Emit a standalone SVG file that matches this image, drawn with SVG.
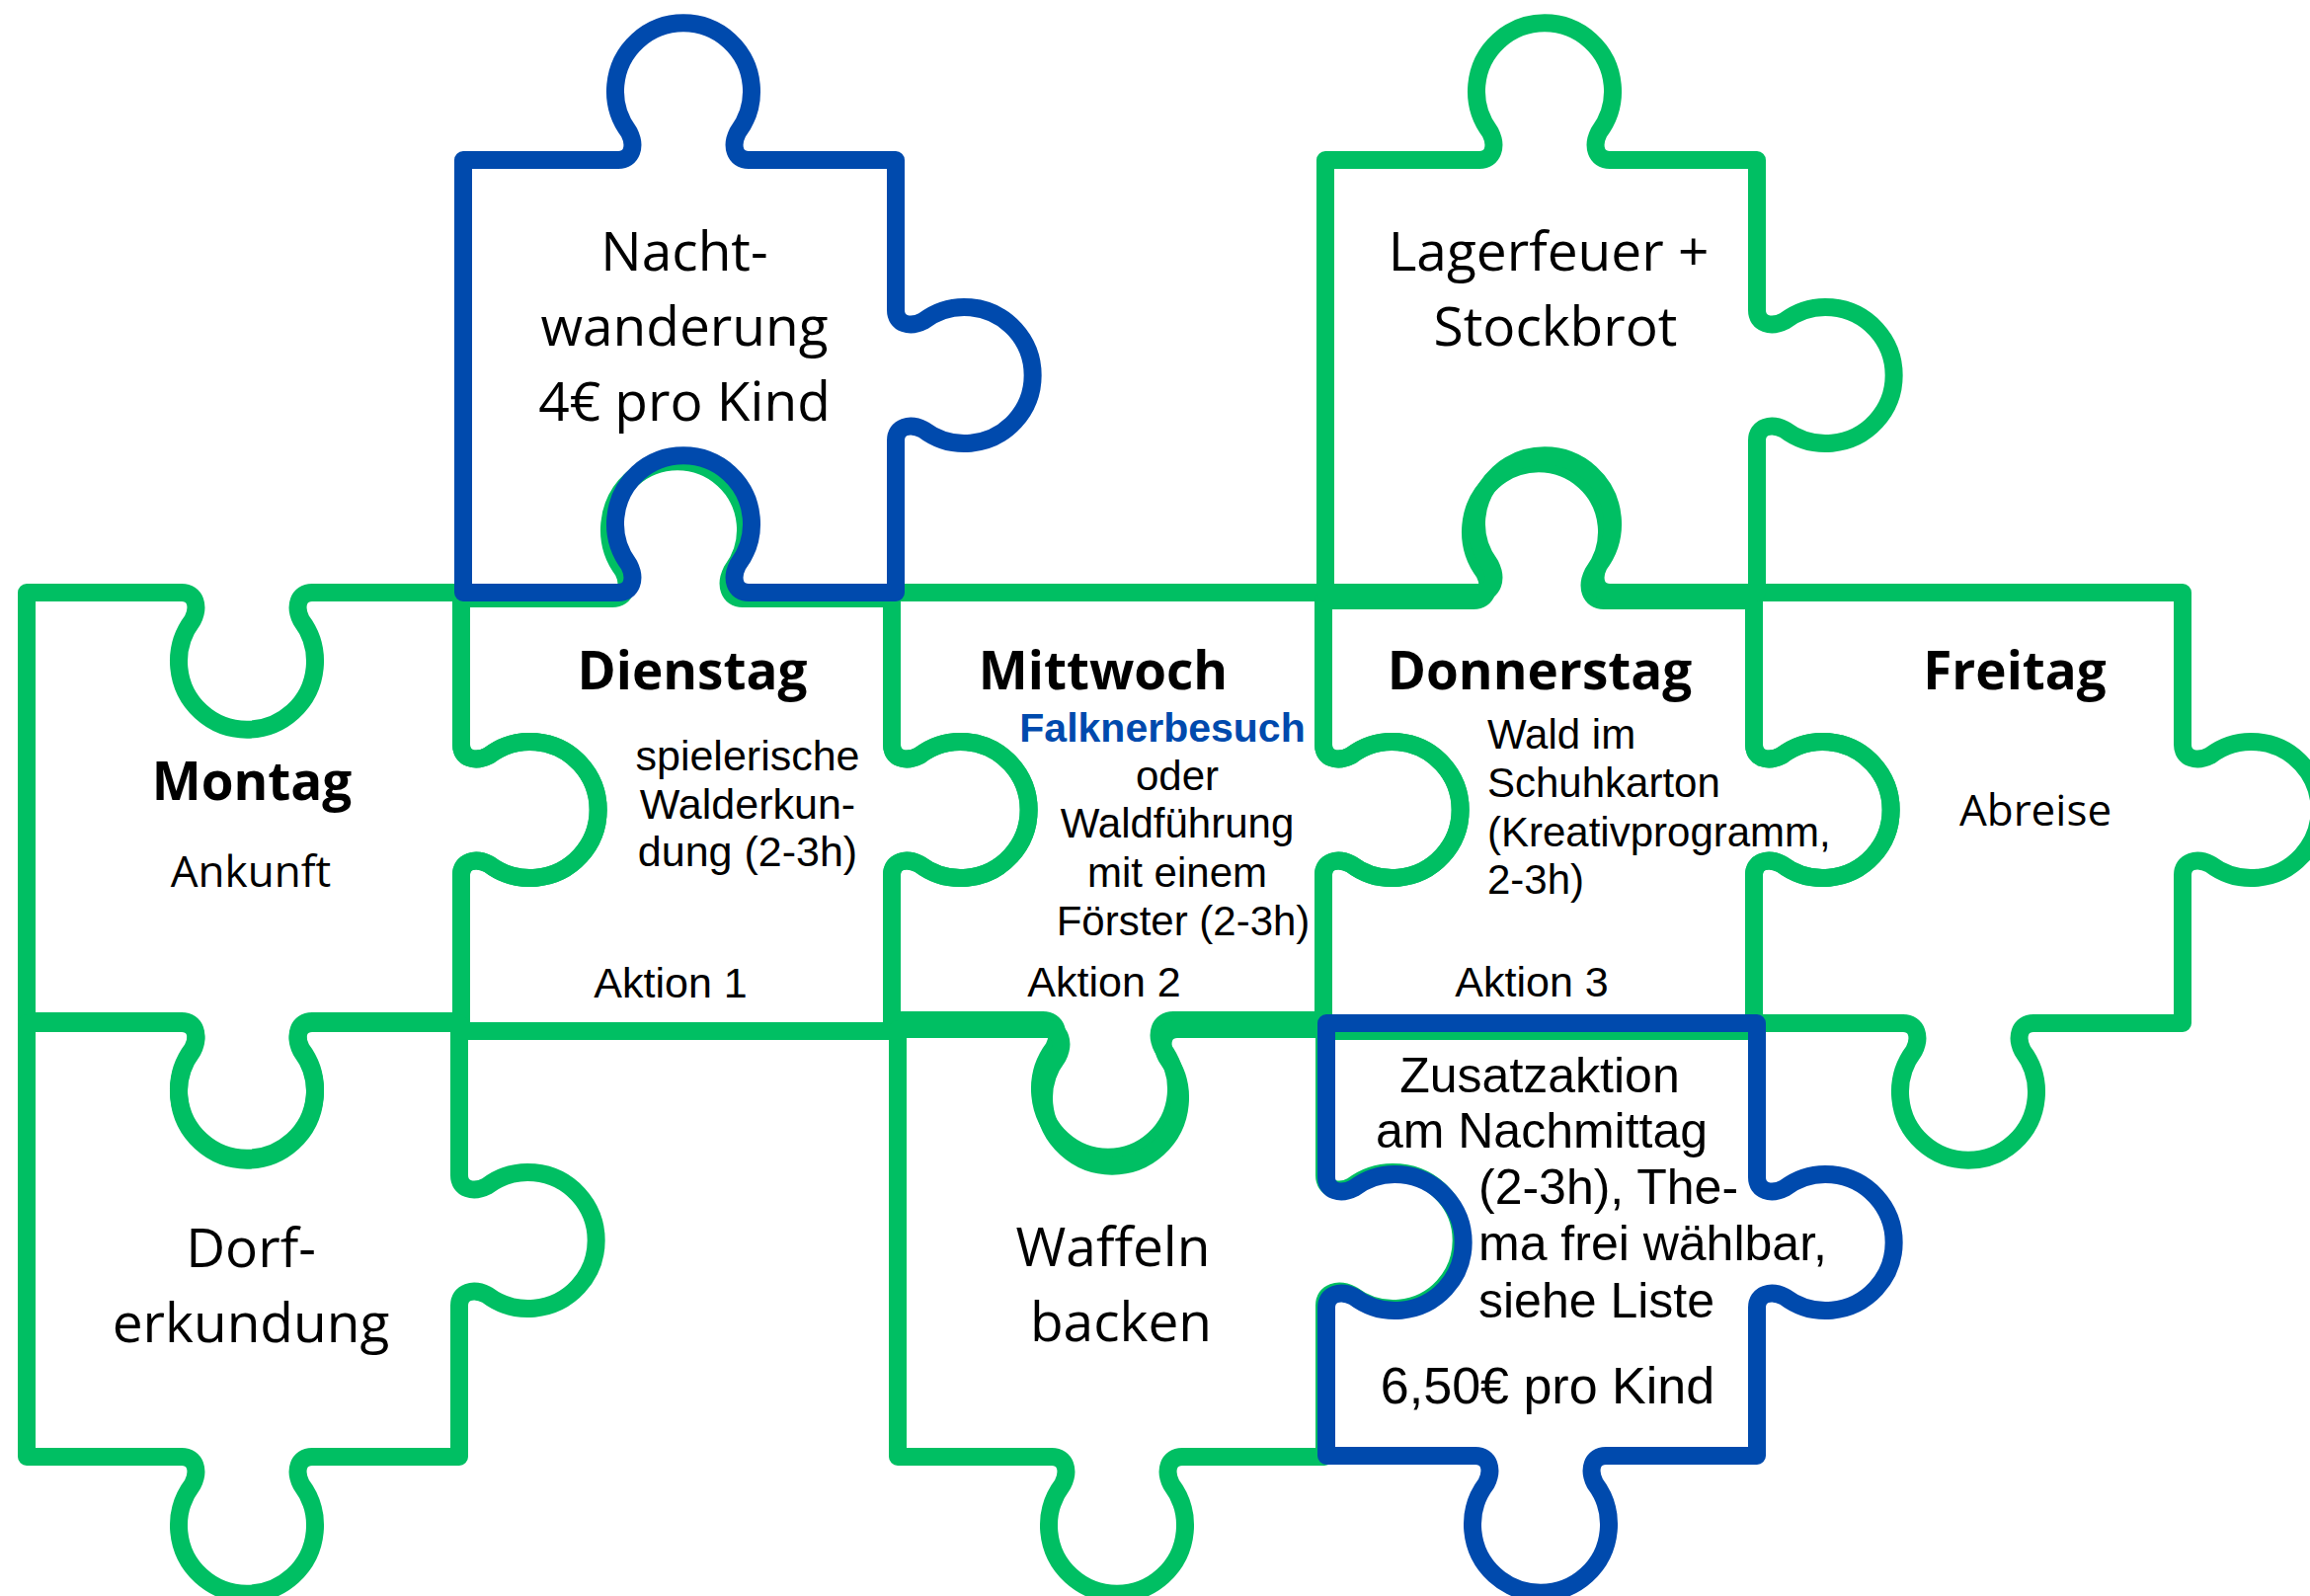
<svg xmlns="http://www.w3.org/2000/svg" width="2339" height="1616" viewBox="0 0 2339 1616">
<style>
.pc{fill:none;stroke-width:18;stroke-linejoin:round;stroke-linecap:round}
.g{stroke:#00BF63}
.b{stroke:#004AAD}
text{font-family:"Open Sans","Noto Sans","Liberation Sans",sans-serif;fill:#000}
.day{font-weight:700;font-size:53px;text-anchor:middle}
.big{font-size:55px;text-anchor:middle}
.mid{font-size:44px;text-anchor:middle}
.body,.bodyl,.z,.blue{font-family:"Liberation Sans","Arimo",Arial,sans-serif}
.body{font-size:42px;text-anchor:middle}
.bodyl{font-size:42px;text-anchor:start}
.z{font-size:50px}
.blue{fill:#004AAD;font-weight:700;font-size:41px;text-anchor:middle}
</style>
<rect width="2339" height="1616" fill="#ffffff"/>
<g id="connectors"></g>
<g id="montag">
<path class="pc g" d="M27,600 H184 c14,0 18,14 11,28 a69,69 0 1 0 110,0 c-7,-14 -3,-28 11,-28 H467 V754 c0,14 14,18 28,11 a69,69 0 1 1 0,110 c-14,-7 -28,-3 -28,11 V1034 H316 c-14,0 -18,14 -11,28 a69,69 0 1 1 -110,0 c7,-14 3,-28 -11,-28 H27 Z"/>
<text class="day" x="255" y="810">Montag</text>
<text class="mid" x="254" y="898">Ankunft</text>
</g>
<g id="dienstag">
<path class="pc g" d="M467,606 H620 c14,0 18,-14 11,-28 a69,69 0 1 1 110,0 c-7,14 -3,28 11,28 H903 V754 c0,14 14,18 28,11 a69,69 0 1 1 0,110 c-14,-7 -28,-3 -28,11 V1044 H467 V886 c0,-14 14,-18 28,-11 a69,69 0 1 0 0,-110 c-14,7 -28,3 -28,-11 Z"/>
<text class="day" x="701" y="698">Dienstag</text>
<text class="body" x="757" y="780" style="font-size:43px">spielerische</text>
<text class="body" x="757" y="829" style="font-size:43px">Walderkun-</text>
<text class="body" x="757" y="877" style="font-size:43px">dung (2-3h)</text>
<text class="body" x="679" y="1010" style="font-size:43px">Aktion 1</text>
</g>
<g id="mittwoch">
<path class="pc g" d="M903,600 H1340 V754 c0,14 14,18 28,11 a69,69 0 1 1 0,110 c-14,-7 -28,-3 -28,11 V1033 H1188 c-14,0 -18,14 -11,28 a69,69 0 1 1 -110,0 c7,-14 3,-28 -11,-28 H903 V886 c0,-14 14,-18 28,-11 a69,69 0 1 0 0,-110 c-14,7 -28,3 -28,-11 Z"/>
<text class="day" x="1117" y="698">Mittwoch</text>
<text class="blue" x="1177" y="751">Falknerbesuch</text>
<text class="body" x="1192" y="800">oder</text>
<text class="body" x="1192" y="848">Waldführung</text>
<text class="body" x="1192" y="898">mit einem</text>
<text class="body" x="1198" y="947">Förster (2-3h)</text>
<text class="body" x="1118" y="1009" style="font-size:43px">Aktion 2</text>
</g>
<g id="donnerstag">
<path class="pc g" d="M1340,608 H1492 c14,0 18,-14 11,-28 a69,69 0 1 1 110,0 c-7,14 -3,28 11,28 H1776 V754 c0,14 14,18 28,11 a69,69 0 1 1 0,110 c-14,-7 -28,-3 -28,11 V1044 H1340 V886 c0,-14 14,-18 28,-11 a69,69 0 1 0 0,-110 c-14,7 -28,3 -28,-11 Z"/>
<text class="day" x="1559" y="698">Donnerstag</text>
<text class="bodyl" x="1506" y="758">Wald im</text>
<text class="bodyl" x="1506" y="807">Schuhkarton</text>
<text class="bodyl" x="1506" y="857">(Kreativprogramm,</text>
<text class="bodyl" x="1506" y="905">2-3h)</text>
<text class="body" x="1551" y="1009" style="font-size:43px">Aktion 3</text>
</g>
<g id="freitag">
<path class="pc g" d="M1776,600 H2210 V754 c0,14 14,18 28,11 a69,69 0 1 1 0,110 c-14,-7 -28,-3 -28,11 V1036 H2059 c-14,0 -18,14 -11,28 a69,69 0 1 1 -110,0 c7,-14 3,-28 -11,-28 H1776 V886 c0,-14 14,-18 28,-11 a69,69 0 1 0 0,-110 c-14,7 -28,3 -28,-11 Z"/>
<text class="day" x="2040" y="698">Freitag</text>
<text class="mid" x="2061" y="836">Abreise</text>
</g>
<g id="lagerfeuer">
<path class="pc g" d="M1342,162 H1498 c14,0 18,-14 11,-28 a69,69 0 1 1 110,0 c-7,14 -3,28 11,28 H1779 V314 c0,14 14,18 28,11 a69,69 0 1 1 0,110 c-14,-7 -28,-3 -28,11 V600 H1630 c-14,0 -18,-14 -11,-28 a69,69 0 1 0 -110,0 c7,14 3,28 -11,28 H1342 Z"/>
<text class="big" x="1568" y="274">Lagerfeuer +</text>
<text class="big" x="1575" y="350">Stockbrot</text>
</g>
<g id="dorf">
<path class="pc g" d="M27,1036 H184 c14,0 18,14 11,28 a69,69 0 1 0 110,0 c-7,-14 -3,-28 11,-28 H465 V1190 c0,14 14,18 28,11 a69,69 0 1 1 0,110 c-14,-7 -28,-3 -28,11 V1475 H316 c-14,0 -18,14 -11,28 a69,69 0 1 1 -110,0 c7,-14 3,-28 -11,-28 H27 Z"/>
<text class="big" x="254" y="1283">Dorf-</text>
<text class="big" x="254" y="1359">erkundung</text>
</g>
<g id="waffeln">
<path class="pc g" d="M909,1042 H1060 c14,0 18,14 11,28 a69,69 0 1 0 110,0 c-7,-14 -3,-28 11,-28 H1341 V1190 c0,14 14,18 28,11 a69,69 0 1 1 0,110 c-14,-7 -28,-3 -28,11 V1475 H1197 c-14,0 -18,14 -11,28 a69,69 0 1 1 -110,0 c7,-14 3,-28 -11,-28 H909 Z"/>
<text class="big" x="1127" y="1282">Waffeln</text>
<text class="big" x="1135" y="1358">backen</text>
</g>
<g id="nachtwanderung">
<path class="pc b" d="M469,162 H626 c14,0 18,-14 11,-28 a69,69 0 1 1 110,0 c-7,14 -3,28 11,28 H907 V314 c0,14 14,18 28,11 a69,69 0 1 1 0,110 c-14,-7 -28,-3 -28,11 V600 H758 c-14,0 -18,-14 -11,-28 a69,69 0 1 0 -110,0 c7,14 3,28 -11,28 H469 Z"/>
<text class="big" x="693" y="274">Nacht-</text>
<text class="big" x="693" y="350">wanderung</text>
<text class="big" x="693" y="426">4€ pro Kind</text>
</g>
<g id="zusatzaktion">
<path class="pc b" d="M1343,1036 H1779 V1192 c0,14 14,18 28,11 a69,69 0 1 1 0,110 c-14,-7 -28,-3 -28,11 V1474 H1626 c-14,0 -18,14 -11,28 a69,69 0 1 1 -110,0 c7,-14 3,-28 -11,-28 H1343 V1324 c0,-14 14,-18 28,-11 a69,69 0 1 0 0,-110 c-14,7 -28,3 -28,-11 Z"/>
<text class="z" x="1559" y="1106" text-anchor="middle">Zusatzaktion</text>
<text class="z" x="1561" y="1162" text-anchor="middle">am Nachmittag</text>
<text class="z" x="1497" y="1219">(2-3h), The-</text>
<text class="z" x="1497" y="1276">ma frei wählbar,</text>
<text class="z" x="1497" y="1334">siehe Liste</text>
<text class="z" x="1567" y="1421" text-anchor="middle" style="font-size:52px">6,50€ pro Kind</text>
</g>
</svg>
